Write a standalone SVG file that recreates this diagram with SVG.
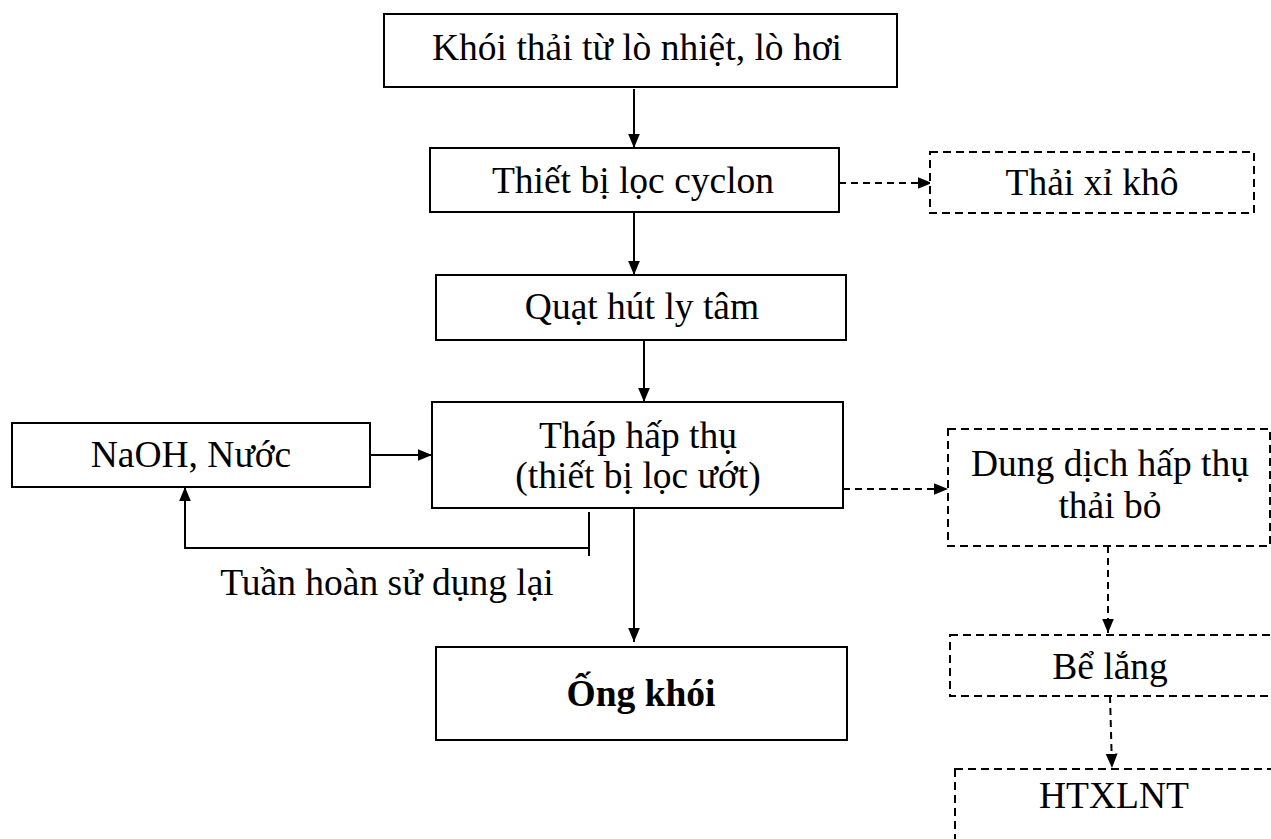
<svg xmlns="http://www.w3.org/2000/svg" width="1271" height="839" viewBox="0 0 1271 839">
  <style>
    .box { fill: #fff; stroke: #000; stroke-width: 2; }
    .dbox { fill: #fff; stroke: #000; stroke-width: 2; stroke-dasharray: 8 5; }
    .lbl { font-family: "Liberation Serif", "Times New Roman", serif; font-size: 37.5px; fill: #000; text-anchor: middle; }
    .line { fill: none; stroke: #000; stroke-width: 2; }
    .dline { fill: none; stroke: #000; stroke-width: 2; stroke-dasharray: 7 5; }
  </style>
  <defs>
    <marker id="arr" viewBox="0 0 12 10" refX="12" refY="5" markerWidth="7.2" markerHeight="6.6" markerUnits="strokeWidth" orient="auto">
      <path d="M0,0 L12,5 L0,10 Z" fill="#000"/>
    </marker>
  </defs>
  <rect width="1271" height="839" fill="#fff"/>

  <g id="connectors">
    <line class="line" x1="634" y1="89" x2="634" y2="148" marker-end="url(#arr)"/>
    <line class="dline" x1="839" y1="183" x2="932" y2="183" marker-end="url(#arr)"/>
    <line class="line" x1="634" y1="213" x2="634" y2="275" marker-end="url(#arr)"/>
    <line class="line" x1="644" y1="340" x2="644" y2="402" marker-end="url(#arr)"/>
    <line class="line" x1="368" y1="455" x2="432" y2="455" marker-end="url(#arr)"/>
    <polyline class="line" points="589,548 185,548 185,487" marker-end="url(#arr)"/>
    <line class="line" x1="589" y1="512" x2="589" y2="556"/>
    <line class="line" x1="634" y1="508" x2="634" y2="642" marker-end="url(#arr)"/>
    <line class="dline" x1="843" y1="489" x2="948" y2="489" marker-end="url(#arr)"/>
    <line class="dline" x1="1108" y1="546" x2="1108" y2="633" marker-end="url(#arr)"/>
    <line class="dline" x1="1110" y1="696" x2="1112" y2="768" marker-end="url(#arr)"/>
  </g>

  <g id="node-source">
    <rect class="box" x="384" y="14" width="513" height="73"/>
    <text class="lbl" x="637" y="60">Khói thải từ lò nhiệt, lò hơi</text>
  </g>
  <g id="node-cyclone">
    <rect class="box" x="430" y="148" width="409" height="64"/>
    <text class="lbl" x="633" y="193">Thiết bị lọc cyclon</text>
  </g>
  <g id="node-slag">
    <rect class="dbox" x="930" y="152" width="324" height="61"/>
    <text class="lbl" x="1092" y="195">Thải xỉ khô</text>
  </g>
  <g id="node-fan">
    <rect class="box" x="436" y="275" width="410" height="65"/>
    <text class="lbl" x="642" y="319">Quạt hút ly tâm</text>
  </g>
  <g id="node-absorber">
    <rect class="box" x="432" y="402" width="411" height="106"/>
    <text class="lbl" x="638" y="448">Tháp hấp thụ</text>
    <text class="lbl" x="638" y="488">(thiết bị lọc ướt)</text>
  </g>
  <g id="node-naoh">
    <rect class="box" x="12" y="423" width="358" height="64"/>
    <text class="lbl" x="191" y="467">NaOH, Nước</text>
  </g>
  <g id="label-recycle">
    <text class="lbl" x="387" y="595">Tuần hoàn sử dụng lại</text>
  </g>
  <g id="node-stack">
    <rect class="box" x="436" y="647" width="411" height="93"/>
    <text class="lbl" x="641" y="706" font-weight="bold">Ống khói</text>
  </g>
  <g id="node-solution">
    <rect class="dbox" x="948" y="429" width="322" height="117"/>
    <text class="lbl" x="1110" y="476">Dung dịch hấp thụ</text>
    <text class="lbl" x="1110" y="518">thải bỏ</text>
  </g>
  <g id="node-settling">
    <rect class="dbox" x="950" y="635" width="330" height="61"/>
    <text class="lbl" x="1110" y="679">Bể lắng</text>
  </g>
  <g id="node-wwtp">
    <rect class="dbox" x="955" y="769" width="330" height="90"/>
    <text class="lbl" x="1114" y="808">HTXLNT</text>
  </g>
</svg>
